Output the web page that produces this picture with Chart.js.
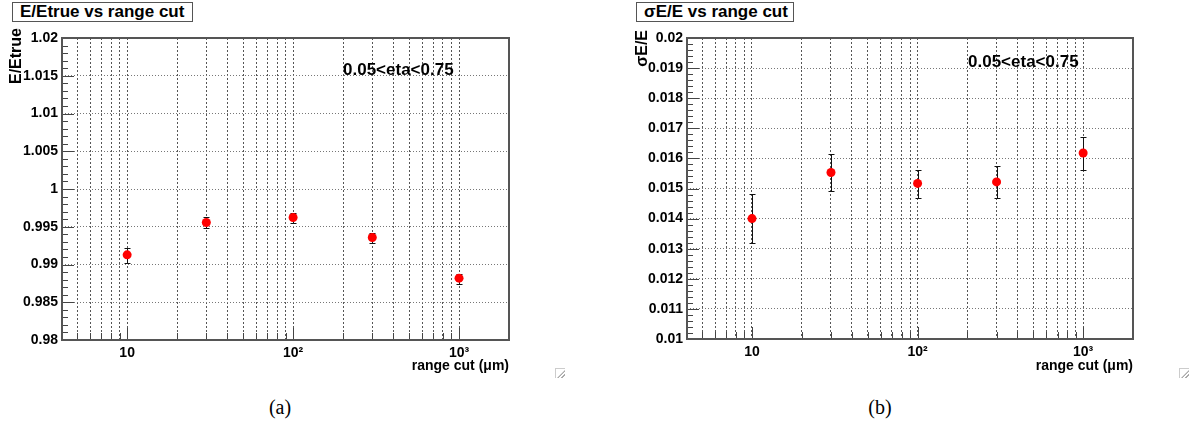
<!DOCTYPE html>
<html>
<head>
<meta charset="utf-8">
<script src="https://cdn.jsdelivr.net/npm/chart.js@4.4.0/dist/chart.umd.min.js"></script>
<style>
  body { margin: 0; background: #fff; width: 1189px; height: 423px; position: relative; overflow: hidden;
         font-family: "Liberation Sans", Arial, sans-serif; }
  canvas { position: absolute; top: 0; }
  .title { position: absolute; top: 2px; height: 20px; box-sizing: border-box; border: 1px solid #555;
           font-weight: bold; font-size: 17px; line-height: 18px; padding-left: 7px; background: #fff; }
  .caption { position: absolute; top: 395px; width: 40px; text-align: center; line-height: 24px;
             font-family: "Liberation Serif", "Times New Roman", serif; font-size: 20px; }
  .grip { position: absolute; top: 368px; width: 9px; height: 9px; border-top: 1px solid #ccc; border-left: 1px solid #ccc;
          background: linear-gradient(135deg, transparent 55%, #aaa 56%, #aaa 64%, transparent 65%, transparent 75%, #aaa 76%, #aaa 84%, transparent 85%); }
</style>
</head>
<body>
<div class="title" style="left:12px;width:181px;">E/Etrue vs range cut</div>
<div class="title" style="left:636px;width:158px;">σE/E vs range cut</div>
<canvas id="chart-a" width="560" height="390" style="left:0px"></canvas>
<canvas id="chart-b" width="589" height="390" style="left:600px"></canvas>
<div class="grip" style="left:555px"></div>
<div class="grip" style="left:1179px"></div>
<div class="caption" style="left:260px">(a)</div>
<div class="caption" style="left:860px">(b)</div>
<script>
// range cut values (um)
const rangeCuts = [10, 30, 100, 300, 1000];

// (a) E/Etrue
const eRatio = [0.99128, 0.99557, 0.99623, 0.99357, 0.98819];
const eRatioLow = [0.99026, 0.99487, 0.99549, 0.99287, 0.98744];
const eRatioHigh = [0.99222, 0.99632, 0.99685, 0.99419, 0.98877];

// (b) sigmaE/E
const sigmaE = [0.01400, 0.01553, 0.01517, 0.01522, 0.01618];
const sigmaELow = [0.01320, 0.01493, 0.01470, 0.01470, 0.01561];
const sigmaEHigh = [0.01483, 0.01614, 0.01562, 0.01576, 0.01672];

// log axis ticks and labels
const xTicks = [5, 6, 7, 8, 9, 10, 20, 30, 40, 50, 60, 70, 80, 90,
                100, 200, 300, 400, 500, 600, 700, 800, 900, 1000, 2000];
const xTickLabels = { 10: "10", 100: "10²", 1000: "10³" };

// y ticks in thousandths: minor every 1, major every 5 for (a); (b) in units of 0.0002
const yTicksA = [];
for (let i = 980; i <= 1020; i++) yTicksA.push(i / 1000);
const yTicksB = [];
for (let i = 50; i <= 100; i++) yTicksB.push(i / 5000);

const FONT = "'Liberation Sans', Arial, sans-serif";
Chart.defaults.font.family = FONT;

function isMajorA(v) { return Math.round(v * 1000) % 5 === 0; }
function isMajorB(v) { return Math.round(v * 5000) % 5 === 0; }

const rootStyle = {
  id: "rootStyle",
  beforeDatasetsDraw(chart, args, opts) {
    const { ctx, chartArea: a, scales: { x, y } } = chart;
    ctx.save();

    // ticks inside the frame
    ctx.strokeStyle = "#444";
    ctx.lineWidth = 1;
    ctx.beginPath();
    y.ticks.forEach((t) => {
      const py = Math.round(y.getPixelForValue(t.value)) + 0.5;
      const len = opts.isMajor(t.value) ? 12 : 6;
      ctx.moveTo(a.left, py);
      ctx.lineTo(a.left + len, py);
    });
    x.ticks.forEach((t) => {
      const px = Math.round(x.getPixelForValue(t.value)) + 0.5;
      const len = xTickLabels[t.value] ? 12 : 7;
      ctx.moveTo(px, a.bottom);
      ctx.lineTo(px, a.bottom - len);
    });
    ctx.stroke();

    // frame
    ctx.lineWidth = 2;
    ctx.strokeStyle = "#555";
    ctx.strokeRect(a.left, a.top, a.right - a.left, a.bottom - a.top);

    // error bars
    ctx.strokeStyle = "#111";
    ctx.lineWidth = 1;
    ctx.beginPath();
    rangeCuts.forEach((v, i) => {
      const px = Math.round(x.getPixelForValue(v)) + 0.5;
      const y1 = Math.round(y.getPixelForValue(opts.low[i])) + 0.5;
      const y2 = Math.round(y.getPixelForValue(opts.high[i])) + 0.5;
      ctx.moveTo(px, y1); ctx.lineTo(px, y2);
      ctx.moveTo(px - 3, y1); ctx.lineTo(px + 3, y1);
      ctx.moveTo(px - 3, y2); ctx.lineTo(px + 3, y2);
    });
    ctx.stroke();

    // labels
    ctx.fillStyle = "#000";
    ctx.textBaseline = "middle";
    ctx.font = "bold 17px " + FONT;
    ctx.textAlign = "left";
    ctx.fillText(opts.label, opts.labelX, opts.labelY);

    ctx.font = "bold 14px " + FONT;
    ctx.textAlign = "right";
    ctx.fillText("range cut (μm)", a.right, 366);

    ctx.translate(opts.yTitleX, opts.yTitleTop);
    ctx.rotate(-Math.PI / 2);
    ctx.font = "bold 16px " + FONT;
    ctx.textAlign = "right";
    ctx.fillText(opts.yTitle, 0, 0);
    ctx.restore();
  },
};

function makeChart(id, values, yMin, yMax, yTicks, isMajor, yWidth, xHeight, padRight, deco) {
  return new Chart(document.getElementById(id), {
    type: "scatter",
    data: {
      datasets: [{
        data: rangeCuts.map((v, i) => ({ x: v, y: values[i] })),
        backgroundColor: "#ff0000",
        borderWidth: 0,
        pointRadius: 4.5,
        pointHoverRadius: 4.5,
      }],
    },
    options: {
      responsive: false,
      animation: false,
      layout: { padding: { top: 38, left: 0, right: padRight, bottom: 0 } },
      plugins: {
        legend: { display: false },
        tooltip: { enabled: false },
        rootStyle: deco,
      },
      scales: {
        x: {
          type: "logarithmic",
          min: 4.05,
          max: 2000,
          afterBuildTicks: (scale) => { scale.ticks = xTicks.map((v) => ({ value: v })); },
          afterFit: (scale) => { scale.height = xHeight; scale.paddingLeft = 0; scale.paddingRight = 0; },
          ticks: {
            autoSkip: false,
            maxRotation: 0,
            padding: 5,
            color: "#000",
            font: { size: 14, weight: "bold" },
            callback: (v) => xTickLabels[v] || "",
          },
          grid: { color: "#555", lineWidth: 1, drawTicks: false },
          border: { display: false, dash: [2, 2] },
        },
        y: {
          type: "linear",
          min: yMin,
          max: yMax,
          afterBuildTicks: (scale) => { scale.ticks = yTicks.map((v) => ({ value: v })); },
          afterFit: (scale) => { scale.width = yWidth; scale.paddingTop = 0; scale.paddingBottom = 0; },
          ticks: {
            autoSkip: false,
            padding: 4,
            color: "#000",
            font: { size: 14, weight: "bold" },
            callback: (v) => (isMajor(v) ? String(parseFloat(v.toFixed(4))) : ""),
          },
          grid: {
            lineWidth: 1,
            drawTicks: false,
            color: (c) => (c.tick && isMajor(c.tick.value) ? "#777" : "rgba(0,0,0,0)"),
          },
          border: { display: false, dash: [1, 2] },
        },
      },
    },
    plugins: [rootStyle],
  });
}

makeChart("chart-a", eRatio, 0.98, 1.02, yTicksA, isMajorA, 62, 50, 51, {
  low: eRatioLow, high: eRatioHigh, isMajor: isMajorA,
  label: "0.05<eta<0.75", labelX: 343, labelY: 70,
  yTitle: "E/Etrue", yTitleX: 17, yTitleTop: 28,
});

makeChart("chart-b", sigmaE, 0.01, 0.02, yTicksB, isMajorB, 87, 51, 56, {
  low: sigmaELow, high: sigmaEHigh, isMajor: isMajorB,
  label: "0.05<eta<0.75", labelX: 368, labelY: 62,
  yTitle: "σE/E", yTitleX: 43, yTitleTop: 30,
});
</script>
</body>
</html>
